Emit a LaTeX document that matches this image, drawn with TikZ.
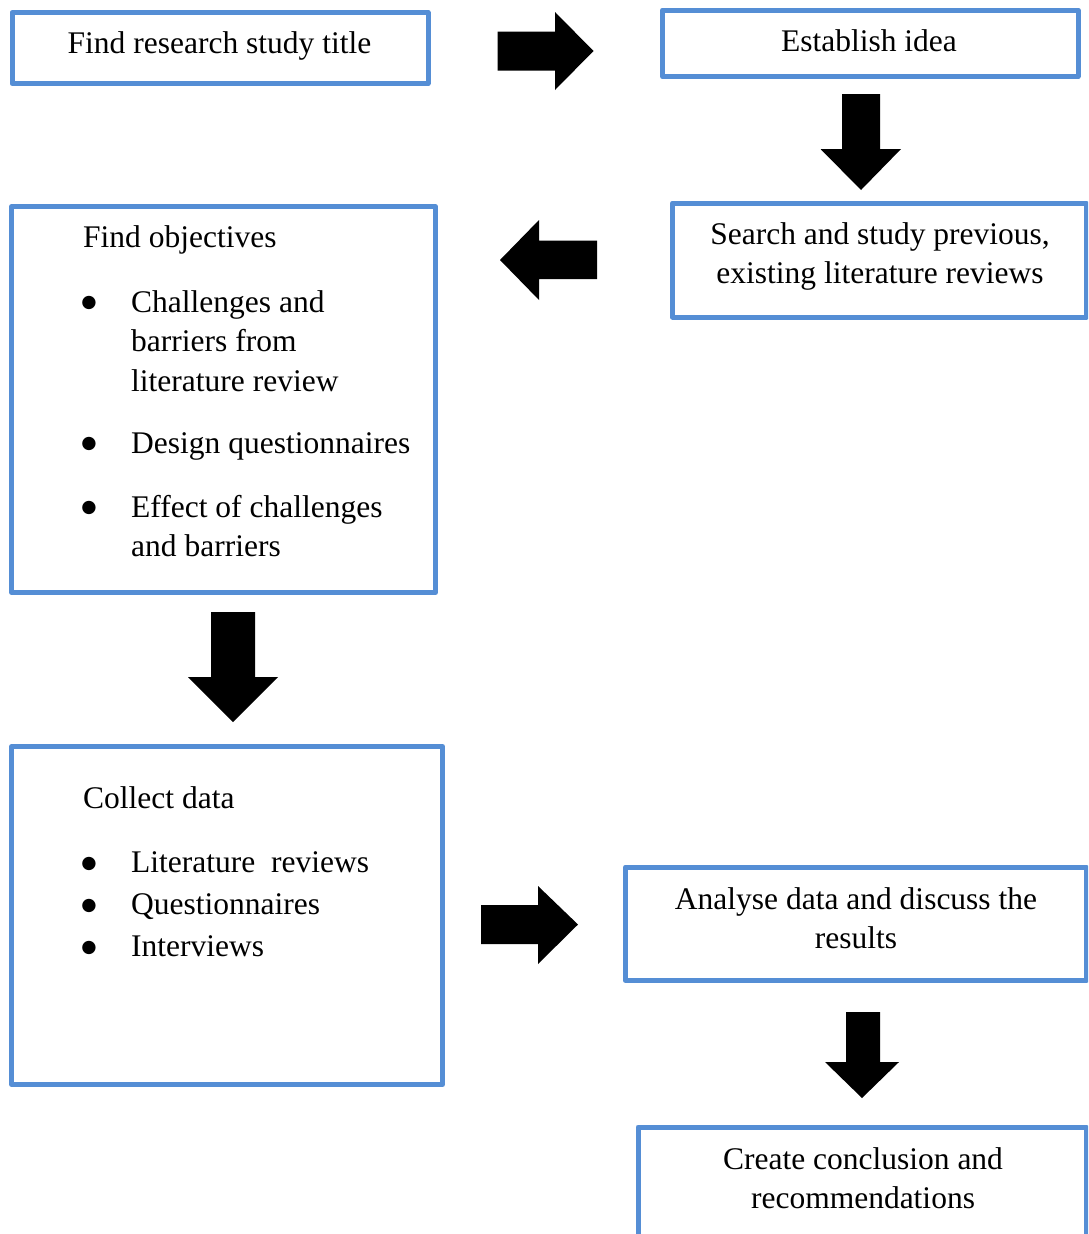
\documentclass[tikz,border=0pt]{standalone}
\usepackage{fontspec}
\setmainfont{Liberation Serif}
\newfontfamily\bulfont{DejaVu Sans}
\definecolor{boxblue}{HTML}{558ED5}
\tikzset{
  box/.style={draw=boxblue, line width=5pt, line join=round, rectangle, inner sep=0pt},
  txt/.style={inner sep=0pt, font=\fontsize{31.5}{39.5}\selectfont},
  ltxt/.style={txt, anchor=base west},
  ctxt/.style={txt, anchor=base},
  bul/.style={inner sep=0pt, anchor=center, font=\bulfont\fontsize{17.5}{20}\selectfont},
  blockarrow/.style={fill=black},
}
\begin{document}
\begin{tikzpicture}[x=1pt,y=-1pt]
\useasboundingbox (0,0) rectangle (1088,1234);
\clip (0,0) rectangle (1088,1234);

% boxes
\node[box, minimum width=416pt, minimum height=71pt] (b1) at (220,48) {};
\node[box, minimum width=415.5pt, minimum height=66.7pt] (b2) at (870.25,43.35) {};
\node[box, minimum width=413.5pt, minimum height=114pt] (b3) at (879.25,260) {};
\node[box, minimum width=423.8pt, minimum height=385.8pt] (b4) at (223.6,399.6) {};
\node[box, minimum width=430.8pt, minimum height=338pt] (b5) at (227.1,915.5) {};
\node[box, minimum width=460.7pt, minimum height=113.5pt] (b6) at (855.65,923.75) {};
\node[box, minimum width=448pt, minimum height=173pt] (b7) at (862,1213.5) {};

% texts
\node[ctxt] (t1) at (219.5,53.5) {Find research study title};
\node[ctxt] (t2) at (869,51.5) {Establish idea};
\node[ctxt] (t3a) at (880,244) {Search and study previous,};
\node[ctxt] (t3b) at (880,283) {existing literature reviews};

\node[ltxt] (t4) at (83,247.7) {Find objectives};
\node[bul] (p41) at (89,302.7) {●};
\node[ltxt] (t41a) at (131,312) {Challenges and};
\node[ltxt] (t41b) at (131,351.5) {barriers from};
\node[ltxt] (t41c) at (131,391) {literature review};
\node[bul] (p42) at (89,443.7) {●};
\node[ltxt] (t42) at (131,453) {Design questionnaires};
\node[bul] (p43) at (89,507.7) {●};
\node[ltxt] (t43a) at (131,517) {Effect of challenges};
\node[ltxt] (t43b) at (131,556.5) {and barriers};

\node[ltxt] (t5) at (83,808.3) {Collect data};
\node[bul] (p51) at (89,863.5) {●};
\node[ltxt] (t51) at (131,872.7) {Literature~ reviews};
\node[bul] (p52) at (89,905.5) {●};
\node[ltxt] (t52) at (131,914) {Questionnaires};
\node[bul] (p53) at (89,947.5) {●};
\node[ltxt] (t53) at (131,956) {Interviews};

\node[ctxt] (t6a) at (856,909.3) {Analyse data and discuss the};
\node[ctxt] (t6b) at (856,948.5) {results};
\node[ctxt] (t7a) at (863,1169.3) {Create conclusion and};
\node[ctxt] (t7b) at (863,1208.5) {recommendations};

% block arrows
\fill[blockarrow] (497.5,31.5) -- (555,31.5) -- (555,12) -- (593.5,51) -- (555,90) -- (555,70.5) -- (497.5,70.5) -- cycle;
\fill[blockarrow] (842,94) -- (880,94) -- (880,149) -- (901,149) -- (861,190) -- (820.5,149) -- (842,149) -- cycle;
\fill[blockarrow] (597,240.5) -- (539,240.5) -- (539,220) -- (500,260) -- (539,300) -- (539,279) -- (597,279) -- cycle;
\fill[blockarrow] (211,612) -- (255,612) -- (255,677) -- (278,677) -- (233,722) -- (188,677) -- (211,677) -- cycle;
\fill[blockarrow] (481,905) -- (538,905) -- (538,886) -- (578,924.5) -- (538,964) -- (538,944) -- (481,944) -- cycle;
\fill[blockarrow] (846,1012) -- (880,1012) -- (880,1062) -- (899,1062) -- (862,1098) -- (825,1062) -- (846,1062) -- cycle;
\end{tikzpicture}
\end{document}
